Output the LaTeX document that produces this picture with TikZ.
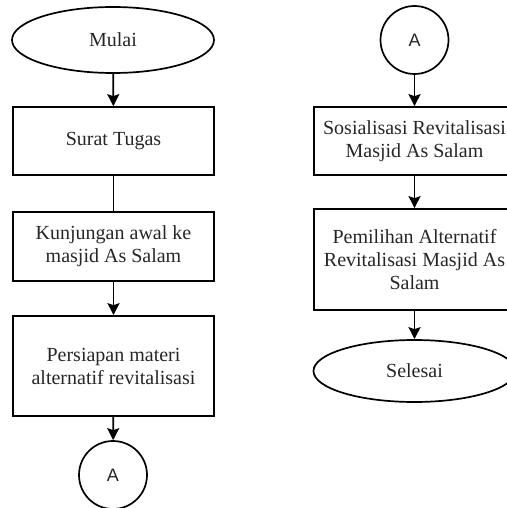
\documentclass[tikz,border=0pt]{standalone}
\usepackage{fontspec}
\setmainfont{Liberation Serif}
\newfontfamily\lsans{Liberation Sans}
\usetikzlibrary{shapes.geometric,arrows.meta}
\begin{document}
\begin{tikzpicture}[x=1pt,y=1pt,
  every node/.style={font=\fontsize{20}{23}\selectfont, text=black!85},
  box/.style={draw, line width=1.7pt, minimum width=201pt, inner sep=0pt, align=center},
  term/.style={draw, ellipse, line width=1.7pt, minimum width=202pt, inner sep=0pt},
  conn/.style={draw, circle, line width=1.7pt, minimum size=68pt, inner sep=0pt, font=\lsans\fontsize{18}{20}\selectfont},
  arr/.style={line width=1.7pt, -{Stealth[length=12pt,width=12pt,inset=2pt]}},
  ln/.style={line width=1.7pt}
]
\useasboundingbox (0,0) rectangle (506,-508);
\node[term, minimum height=66pt] (mulai) at (113,-40) {Mulai};
\node[box, minimum height=68pt] (surat) at (113.5,-141) {Surat Tugas};
\node[box, minimum height=69pt] (kunj) at (113.5,-246.5) {Kunjungan awal ke\\masjid As Salam};
\node[box, minimum height=100pt] (pers) at (113.5,-366) {Persiapan materi\\alternatif revitalisasi};
\node[conn] (a1) at (113,-475) {A};

\node[conn] (a2) at (414.5,-40) {A};
\node[box, minimum height=68pt] (sos) at (414.5,-141) {Sosialisasi Revitalisasi\\Masjid As Salam};
\node[box, minimum height=101pt] (pem) at (414.5,-259.5) {Pemilihan Alternatif\\Revitalisasi Masjid As\\Salam};
\node[term, minimum height=62pt] (sel) at (414.5,-371) {Selesai};

\draw[arr] (mulai) -- (surat);
\draw[ln] (surat) -- (kunj);
\draw[arr] (kunj) -- (pers);
\draw[arr] (pers) -- (a1);
\draw[arr] (a2) -- (sos);
\draw[arr] (sos) -- (pem);
\draw[arr] (pem) -- (sel);
\end{tikzpicture}
\end{document}
